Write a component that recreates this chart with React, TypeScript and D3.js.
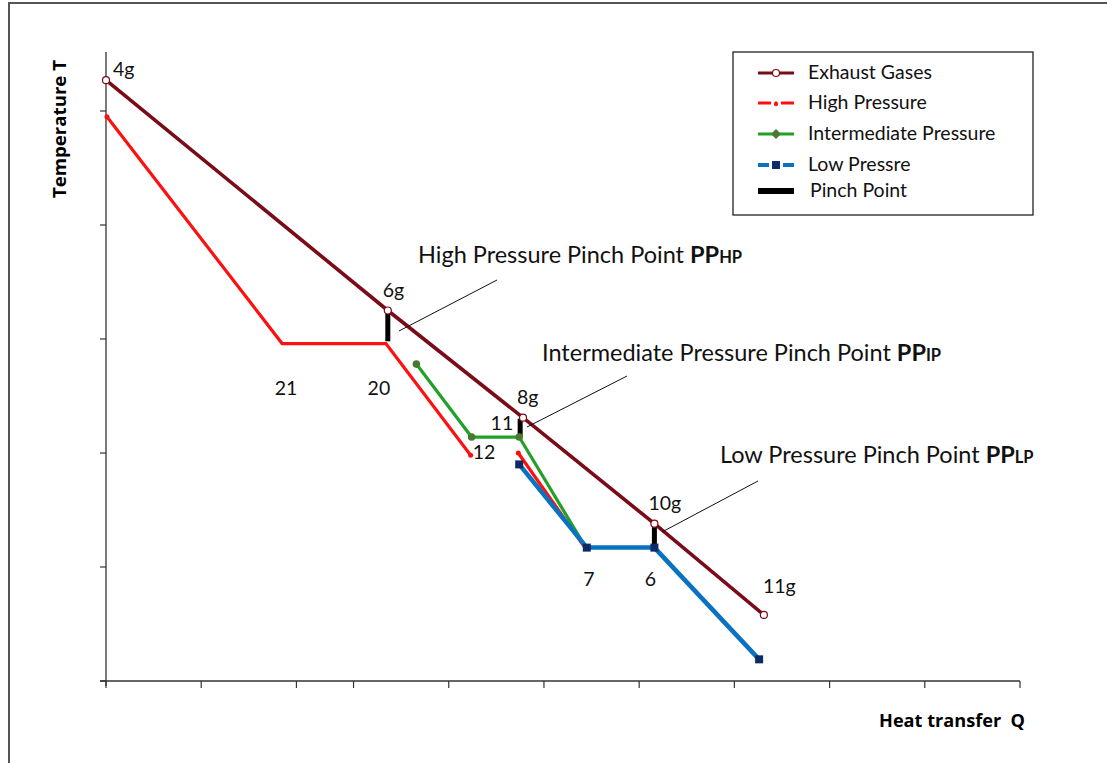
import React from "react";
import * as d3 from "d3";

// ---- data (Q, T in arbitrary units) ----
const exhaustQ = [0, 2.96, 4.38, 5.76, 6.91];
const exhaustT = [5.27, 3.25, 2.31, 1.38, 0.58];
const exhaustNames = ["4g", "6g", "8g", "10g", "11g"];

const hp1Q = [0.01, 1.85, 2.94, 3.83];
const hp1T = [4.95, 2.96, 2.96, 1.98];
const hp2Q = [4.33, 5.03];
const hp2T = [2.0, 1.17];

const ipQ = [3.26, 3.84, 4.34, 5.04];
const ipT = [2.78, 2.14, 2.14, 1.17];

const lpQ = [4.34, 5.05, 5.76, 6.86];
const lpT = [1.9, 1.17, 1.17, 0.19];

const pinchQ = [2.96, 4.35, 5.76];
const pinchTop = [3.22, 2.3, 1.35];
const pinchBottom = [2.98, 2.14, 1.17];

const xTicks = [0, 1, 2, 2.6, 3.6, 4.6, 5.6, 6.6, 7.6, 8.6, 9.6];
const yTicks = [0, 1, 2, 3, 4, 5];

const stateLabels = ["21", "20", "12", "11", "7", "6"];
const stateQ = [1.85, 2.94, 3.83, 4.34, 5.05, 5.76];
const stateT = [2.96, 2.96, 1.98, 2.14, 1.17, 1.17];

const legendLabels = ["Exhaust Gases", "High Pressure", "Intermediate Pressure", "Low Pressre", "Pinch Point"];

const annoMain = ["High Pressure Pinch Point ", "Intermediate Pressure Pinch Point ", "Low Pressure Pinch Point "];
const annoSub = ["HP", "IP", "LP"];

// ---- styles ----
const C_EX = "#7a0b18";
const C_HP = "#ff1010";
const C_IP = "#22a02a";
const C_IPM = "#4a7a2e";
const C_LP = "#0a72c2";
const C_LPM = "#0b2a66";
const FONT = "Lato, 'Open Sans', sans-serif";
const BOLDFONT = "'Liberation Sans Narrow', 'Open Sans', sans-serif";

export default function App() {
  const x = d3.scaleLinear().domain([0, 9.6]).range([106, 1020]);
  const y = d3.scaleLinear().domain([0, 5]).range([681, 111]);
  const line = d3.line<[number, number]>().x((d) => x(d[0])).y((d) => y(d[1]));
  const zip = (a: number[], b: number[]) => a.map((v, i) => [v, b[i]] as [number, number]);

  const ex = zip(exhaustQ, exhaustT);
  const hp1 = zip(hp1Q, hp1T);
  const hp2 = zip(hp2Q, hp2T);
  const ip = zip(ipQ, ipT);
  const lp = zip(lpQ, lpT);

  const exOff = [[7, -4], [-5, -14], [-6, -14], [-6, -14], [-1, -22]];
  const stOff: [number, number, string][] = [
    [4, 51, "middle"], [-7, 51, "middle"], [2, 4, "start"], [-6, -7, "end"], [2, 38, "middle"], [-4, 38, "middle"],
  ];
  const annoPos = [[418, 263], [542, 361], [720, 463]];
  const leader = [[[497, 280], [399, 331]], [[627, 376], [527, 427]], [[758, 481], [662, 532]]];

  const legY = [73, 103, 134, 165, 191];

  return (
    <svg width={1107} height={763} style={{ position: "absolute", left: 0, top: 0, background: "#fff" }}>
      <defs>
        <clipPath id="plotclip">
          <rect x={0} y={0} width={1035} height={763} />
        </clipPath>
      </defs>
      <rect x={0} y={0} width={1107} height={763} fill="#fff" />
      <rect x={9} y={3} width={1200} height={900} fill="none" stroke="#555" strokeWidth={2} />

      {/* axes */}
      <line x1={106} x2={106} y1={52} y2={686} stroke="#333" strokeWidth={1.3} />
      <line x1={100} x2={1020} y1={681} y2={681} stroke="#333" strokeWidth={1.3} />
      {yTicks.map((t) => (
        <line key={"yt" + t} x1={100} x2={106} y1={y(t)} y2={y(t)} stroke="#333" strokeWidth={1.2} />
      ))}
      {xTicks.map((t) => (
        <line key={"xt" + t} x1={x(t)} x2={x(t)} y1={681} y2={688} stroke="#333" strokeWidth={1.2} />
      ))}
      <text x={879} y={727} fontFamily={BOLDFONT} fontWeight="bold" fontSize={18} textLength={146} lengthAdjust="spacingAndGlyphs">
        {"Heat transfer\u00a0 Q"}
      </text>
      <text transform="translate(66,198) rotate(-90)" fontFamily={BOLDFONT} fontWeight="bold" fontSize={18} textLength={138} lengthAdjust="spacingAndGlyphs">
        Temperature T
      </text>

      {/* series lines */}
      <path d={line(hp1) || ""} fill="none" stroke={C_HP} strokeWidth={3.2} />
      <path d={line(hp2) || ""} fill="none" stroke={C_HP} strokeWidth={3.2} />
      <path d={line(ip) || ""} fill="none" stroke={C_IP} strokeWidth={3.2} />
      <path d={line(lp) || ""} fill="none" stroke={C_LP} strokeWidth={4.5} />
      <path d={line(ex) || ""} fill="none" stroke={C_EX} strokeWidth={3.6} />

      {/* pinch points */}
      {pinchQ.map((q, i) => (
        <line key={"pp" + i} x1={x(q)} x2={x(q)} y1={y(pinchTop[i])} y2={y(pinchBottom[i])} stroke="#000" strokeWidth={5} />
      ))}

      {/* markers */}
      {[hp1[0], hp1[hp1.length - 1], hp2[0]].map((d, i) => (
        <circle key={"hpm" + i} cx={x(d[0])} cy={y(d[1])} r={2.5} fill={C_HP} />
      ))}
      {ip.slice(0, 3).map((d, i) => (
        <circle key={"ipm" + i} cx={x(d[0])} cy={y(d[1])} r={3.8} fill={C_IPM} />
      ))}
      {lp.map((d, i) => (
        <rect key={"lpm" + i} x={x(d[0]) - 4} y={y(d[1]) - 4} width={8} height={8} fill={C_LPM} />
      ))}
      {ex.map((d, i) => (
        <circle key={"exm" + i} cx={x(d[0])} cy={y(d[1])} r={3.5} fill="#fff" stroke={C_EX} strokeWidth={1.2} />
      ))}

      {/* point labels */}
      {ex.map((d, i) => (
        <text key={"exl" + i} x={x(d[0]) + exOff[i][0]} y={y(d[1]) + exOff[i][1]} fontFamily={FONT} fontSize={19.5} fill="#111">
          {exhaustNames[i]}
        </text>
      ))}
      {stateLabels.map((s, i) => (
        <text key={"stl" + i} x={x(stateQ[i]) + stOff[i][0]} y={y(stateT[i]) + stOff[i][1]} textAnchor={stOff[i][2] as any} fontFamily={FONT} fontSize={19.5} fill="#111">
          {s}
        </text>
      ))}

      {/* annotations */}
      {leader.map((l, i) => (
        <line key={"ld" + i} x1={l[0][0]} y1={l[0][1]} x2={l[1][0]} y2={l[1][1]} stroke="#111" strokeWidth={1} />
      ))}
      <g clipPath="url(#plotclip)">
        {annoMain.map((s, i) => (
          <text key={"an" + i} x={annoPos[i][0]} y={annoPos[i][1]} fontFamily={FONT} fontSize={23.5} fill="#111">
            {s}
            <tspan fontWeight="bold">PP</tspan>
            <tspan fontWeight="bold" fontSize={16.5}>{annoSub[i]}</tspan>
          </text>
        ))}
      </g>

      {/* legend */}
      <rect x={733} y={52} width={300} height={163} fill="#fff" stroke="#222" strokeWidth={1.3} />
      {legendLabels.map((s, i) => {
        const yy = legY[i];
        return (
          <g key={"lg" + i}>
            {i === 0 && (
              <g>
                <line x1={758} x2={794} y1={yy} y2={yy} stroke={C_EX} strokeWidth={3} />
                <circle cx={776} cy={yy} r={3.5} fill="#fff" stroke={C_EX} strokeWidth={1.2} />
              </g>
            )}
            {i === 1 && (
              <g>
                <line x1={758} x2={794} y1={yy} y2={yy} stroke={C_HP} strokeWidth={3} strokeDasharray="13,4,2,4,13" />
                <circle cx={776} cy={yy + 1} r={2.2} fill={C_HP} />
              </g>
            )}
            {i === 2 && (
              <g>
                <line x1={758} x2={794} y1={yy} y2={yy} stroke={C_IP} strokeWidth={3} />
                <path d={`M776,${yy - 5}L781,${yy}L776,${yy + 5}L771,${yy}Z`} fill={C_IPM} />
              </g>
            )}
            {i === 3 && (
              <g>
                <line x1={758} x2={794} y1={yy} y2={yy} stroke={C_LP} strokeWidth={4} strokeDasharray="11,3,8,3,11" />
                <rect x={772} y={yy - 4} width={8} height={8} fill={C_LPM} />
              </g>
            )}
            {i === 4 && <line x1={758} x2={794} y1={yy} y2={yy} stroke="#000" strokeWidth={6} />}
            <text x={i === 4 ? 810 : 808} y={yy + 6} fontFamily={FONT} fontSize={19.5} fill="#111">
              {s}
            </text>
          </g>
        );
      })}
    </svg>
  );
}
